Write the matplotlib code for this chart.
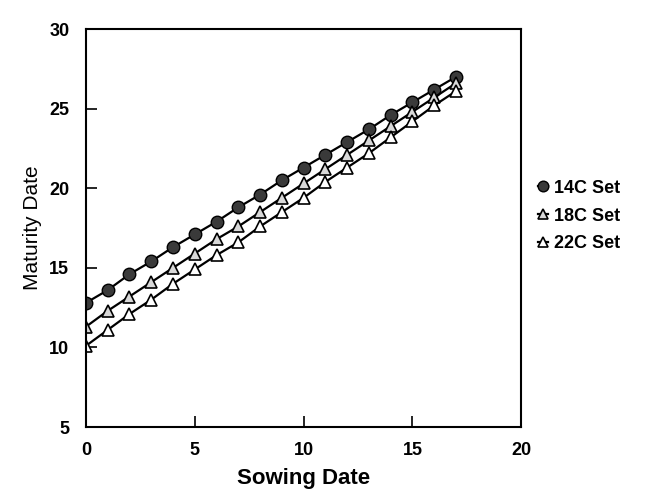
import matplotlib
matplotlib.use("Agg")
from matplotlib import pyplot as plt

# data
sowing = list(range(18))
set_14c = [12.8, 13.6, 14.6, 15.4, 16.3, 17.1, 17.9, 18.8, 19.6, 20.5,
           21.3, 22.1, 22.9, 23.7, 24.6, 25.4, 26.2, 27.0]
set_18c = [11.3, 12.3, 13.2, 14.1, 15.0, 15.9, 16.8, 17.6, 18.5, 19.4,
           20.3, 21.2, 22.1, 23.0, 23.9, 24.8, 25.7, 26.6]
set_22c = [10.1, 11.1, 12.1, 13.0, 14.0, 14.9, 15.8, 16.6, 17.6, 18.5,
           19.4, 20.4, 21.3, 22.2, 23.2, 24.2, 25.2, 26.1]
labels = ["14C Set", "18C Set", "22C Set"]
x_ticks = [0, 5, 10, 15, 20]
y_ticks = [5, 10, 15, 20, 25, 30]

plt.rcParams['font.family'] = ['Liberation Sans', 'DejaVu Sans']

fig = plt.figure(figsize=(6.46, 4.92), dpi=100)
ax = fig.add_axes([0.133, 0.132, 0.674, 0.809])

ax.plot(sowing, set_14c, color='black', lw=1.6, marker='o', ms=9,
        mfc='#3a3a3a', mec='black', mew=1.0, label=labels[0])
ax.plot(sowing, set_18c, color='black', lw=1.6, marker='^', ms=9,
        mfc='#d8d8d8', mec='black', mew=1.2, label=labels[1])
ax.plot(sowing, set_22c, color='black', lw=1.6, marker='^', ms=9,
        mfc='white', mec='black', mew=1.2, label=labels[2])

ax.set_xlim(0, 20)
ax.set_ylim(5, 30)
ax.set_xticks(x_ticks)
ax.set_yticks(y_ticks)
ax.tick_params(direction='in', length=8, width=1.2, labelsize=13)
ax.tick_params(axis='x', pad=11)
ax.tick_params(axis='y', pad=12)
for lab in ax.get_xticklabels() + ax.get_yticklabels():
    lab.set_fontweight('bold')
for sp in ax.spines.values():
    sp.set_linewidth(1.5)

ax.set_xlabel("Sowing Date", fontsize=16, fontweight='bold', labelpad=6)
ax.set_ylabel("Maturity Date", fontsize=15, labelpad=5)

ax.legend(loc='center left', bbox_to_anchor=(1.0, 0.53), frameon=False,
          handlelength=0.6, handletextpad=0.3, labelspacing=0.6,
          prop={'size': 13, 'weight': 'bold'}, markerscale=0.85)

fig.savefig("out.png", dpi=100)
